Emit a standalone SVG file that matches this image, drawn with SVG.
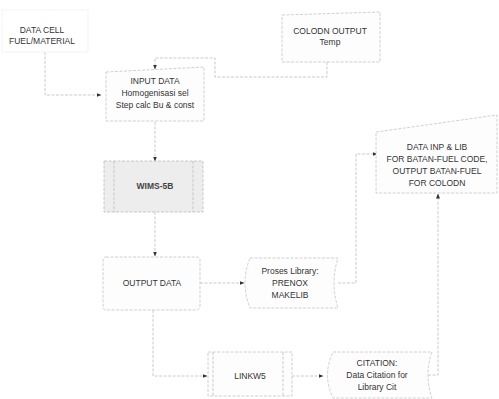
<svg xmlns="http://www.w3.org/2000/svg" width="499" height="399" viewBox="0 0 499 399">
<defs>
<style>
.n{fill:#fdfdfd;stroke:#c4c4c4;stroke-width:0.8;stroke-dasharray:3 1.5}
.g{fill:#ededed;stroke:#bcbcbc;stroke-width:0.8;stroke-dasharray:3 1.5}
.c{fill:none;stroke:#bdbdbd;stroke-width:0.8;stroke-dasharray:3 1.5}
text{font-family:"Liberation Sans",Arial,sans-serif;font-size:8.5px;fill:#333;text-anchor:middle}
</style>
<marker id="a" viewBox="0 0 10 10" refX="9" refY="5" markerWidth="5" markerHeight="5" orient="auto" markerUnits="userSpaceOnUse">
<path d="M0,1 L10,5 L0,9 Z" fill="#333"/>
</marker>
</defs>
<rect width="499" height="399" fill="#fff"/>
<g id="connectors">
<path class="c" d="M45,52 V95 H101" marker-end="url(#a)"/>
<path class="c" d="M327,62 V77 H215 V58 H155 V69" marker-end="url(#a)"/>
<path class="c" d="M155,122 V161" marker-end="url(#a)"/>
<path class="c" d="M155,212 V256" marker-end="url(#a)"/>
<path class="c" d="M200,283 H244" marker-end="url(#a)"/>
<path class="c" d="M338,283 H356 V154 H377" marker-end="url(#a)"/>
<path class="c" d="M153,310 V376 H207" marker-end="url(#a)"/>
<path class="c" d="M292,376 H323" marker-end="url(#a)"/>
<path class="c" d="M428,375 H438 V194" marker-end="url(#a)"/>
</g>
<g id="datacell">
<rect x="2" y="10" width="86" height="42" fill="none" stroke="#f0f0f0" stroke-width="0.8"/>
<text x="42" y="33">DATA CELL</text>
<text x="42" y="44">FUEL/MATERIAL</text>
</g>
<g id="colodn">
<path class="n" d="M282,15 L380,12 L380,62 L282,62 Z"/>
<text x="330" y="34">COLODN OUTPUT</text>
<text x="330" y="45">Temp</text>
</g>
<g id="input">
<path class="n" d="M106,72 L204,67 L204,121 L106,121 Z"/>
<text x="155" y="84">INPUT DATA</text>
<text x="155" y="96">Homogenisasi sel</text>
<text x="155" y="108">Step calc Bu &amp; const</text>
</g>
<g id="wims">
<rect class="g" x="104" y="161" width="99" height="51"/>
<line class="c" x1="114" y1="161" x2="114" y2="212"/>
<line class="c" x1="193" y1="161" x2="193" y2="212"/>
<text x="155" y="189" style="font-weight:bold;fill:#444">WIMS-5B</text>
</g>
<g id="datainp">
<path class="n" d="M376,132 L497,115 L497,193 L376,193 Z"/>
<text x="437" y="150">DATA INP &amp; LIB</text>
<text x="437" y="162">FOR BATAN-FUEL CODE,</text>
<text x="437" y="174">OUTPUT BATAN-FUEL</text>
<text x="437" y="186">FOR COLODN</text>
</g>
<g id="output">
<rect class="n" x="103" y="257" width="97" height="53" rx="3"/>
<text x="152" y="286">OUTPUT DATA</text>
</g>
<g id="proses">
<path class="n" d="M250,258 H338 Q330,283 338,308 H250 Q240,283 250,258 Z"/>
<text x="290" y="274">Proses Library:</text>
<text x="290" y="286">PRENOX</text>
<text x="290" y="298">MAKELIB</text>
</g>
<g id="linkw5">
<rect class="n" x="208" y="352" width="84" height="44"/>
<line class="c" x1="213" y1="352" x2="213" y2="396"/>
<line class="c" x1="283" y1="352" x2="283" y2="396"/>
<text x="250" y="379">LINKW5</text>
</g>
<g id="citation">
<path class="n" d="M333,352 H432 Q424,375 432,398 H333 Q322,375 333,352 Z"/>
<text x="377" y="366">CITATION:</text>
<text x="377" y="378">Data Citation for</text>
<text x="377" y="390">Library Cit</text>
</g>
</svg>
